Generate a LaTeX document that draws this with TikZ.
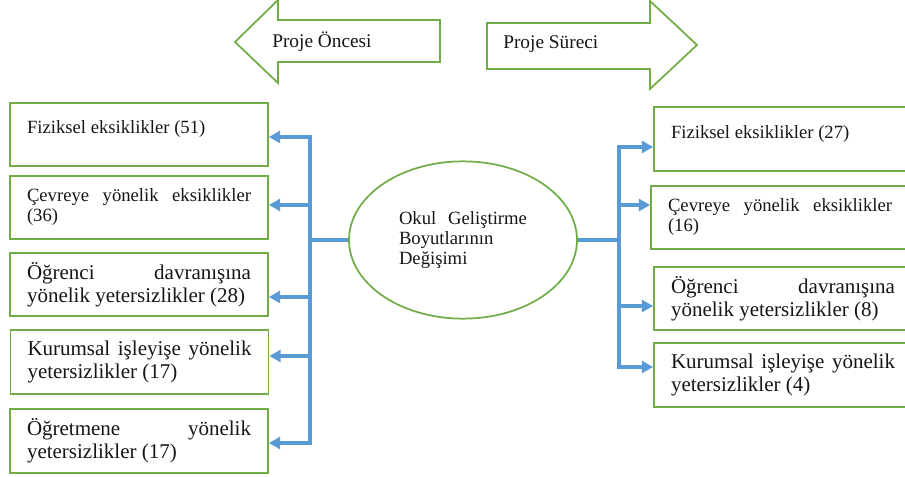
\documentclass[tikz,border=0pt]{standalone}
\usepackage{fontspec}
\setmainfont{Liberation Serif}
\usetikzlibrary{arrows.meta,shapes.geometric}

\definecolor{boxgreen}{RGB}{112,173,71}
\definecolor{linkblue}{RGB}{91,155,213}
\definecolor{inkgray}{RGB}{22,22,22}

% keep Turkish words whole and let justified lines stretch
\hyphenpenalty=10000
\exhyphenpenalty=10000
\tolerance=9999

\begin{document}
\begin{tikzpicture}[x=0.75pt,y=-0.75pt,
  smallfont/.style={font=\fontsize{14}{15}\selectfont},
  largefont/.style={font=\fontsize{15.75}{17.25}\selectfont},
  itembox/.style={draw=boxgreen, line width=1.3pt, fill=white, rectangle,
    minimum width=193.5pt, minimum height=47.5pt, text width=168pt,
    align=justify, inner sep=0pt, text=inkgray},
  link/.style={draw=linkblue, line width=2.6pt,
    -{Triangle[length=8.5pt,width=9pt]}},
  stage/.style={draw=boxgreen, line width=1.3pt, fill=white, line join=miter},
  stagetext/.style={font=\fontsize{14.5}{16}\selectfont, text=inkgray, anchor=west, inner sep=0pt},
  hub/.style={ellipse, draw=boxgreen, line width=1.3pt, fill=white,
    minimum width=171pt, minimum height=118pt, inner sep=0pt,
    text width=96pt, align=justify, text=inkgray,
    font=\fontsize{14}{15}\selectfont}]

\fill[white] (0,0) rectangle (905,477);
\useasboundingbox (0,0) rectangle (905,477);
\clip (0,0) rectangle (905,477);

% stage arrows at the top
\draw[stage] (235,42) -- (278,0) -- (278,20) -- (440,20) -- (440,62)
  -- (278,62) -- (278,83) -- cycle;
\node[stagetext] (before) at (272,42) {Proje Öncesi};
\draw[stage] (487,23) -- (650,23) -- (650,1) -- (697,45) -- (650,89)
  -- (650,69) -- (487,69) -- cycle;
\node[stagetext] (during) at (503,44) {Proje Süreci};

% central ellipse
\node[hub] (ell) at (463,240) {Okul Geliştirme Boyutlarının Değişimi};

% left column
\node[itembox, smallfont] (lb1) at (139,134.5) {Fiziksel eksiklikler (51)\\[-4.5pt]\mbox{}};
\node[itembox, smallfont] (lb2) at (139,207.5) {Çevreye yönelik eksiklikler (36)};
\node[itembox, largefont] (lb3) at (139,284.5) {Öğrenci davranışına yönelik yetersizlikler (28)};
\node[itembox, largefont] (lb4) at (139.5,362) {Kurumsal işleyişe yönelik yetersizlikler (17)};
\node[itembox, largefont] (lb5) at (139,441) {Öğretmene yönelik yetersizlikler (17)};

% right column
\node[itembox, smallfont] (rb1) at (783,139) {Fiziksel eksiklikler (27)\\[-4.5pt]\mbox{}};
\node[itembox, smallfont] (rb2) at (780,217.5) {Çevreye yönelik eksiklikler (16)};
\node[itembox, largefont] (rb3) at (783,298.5) {Öğrenci davranışına yönelik yetersizlikler (8)};
\node[itembox, largefont] (rb4) at (783,375) {Kurumsal işleyişe yönelik yetersizlikler (4)};

% branching connectors
\coordinate (lj) at (310,240);
\coordinate (rj) at (619,240);
\foreach \b/\yy in {lb1/137,lb2/205,lb3/297,lb4/356,lb5/443}
  \draw[link] (ell.west) -- (lj) |- (\b.east |- 0,\yy);
\foreach \b/\yy in {rb1/147,rb2/205,rb3/306,rb4/367}
  \draw[link] (ell.east) -- (rj) |- (\b.west |- 0,\yy);

\end{tikzpicture}
\end{document}
